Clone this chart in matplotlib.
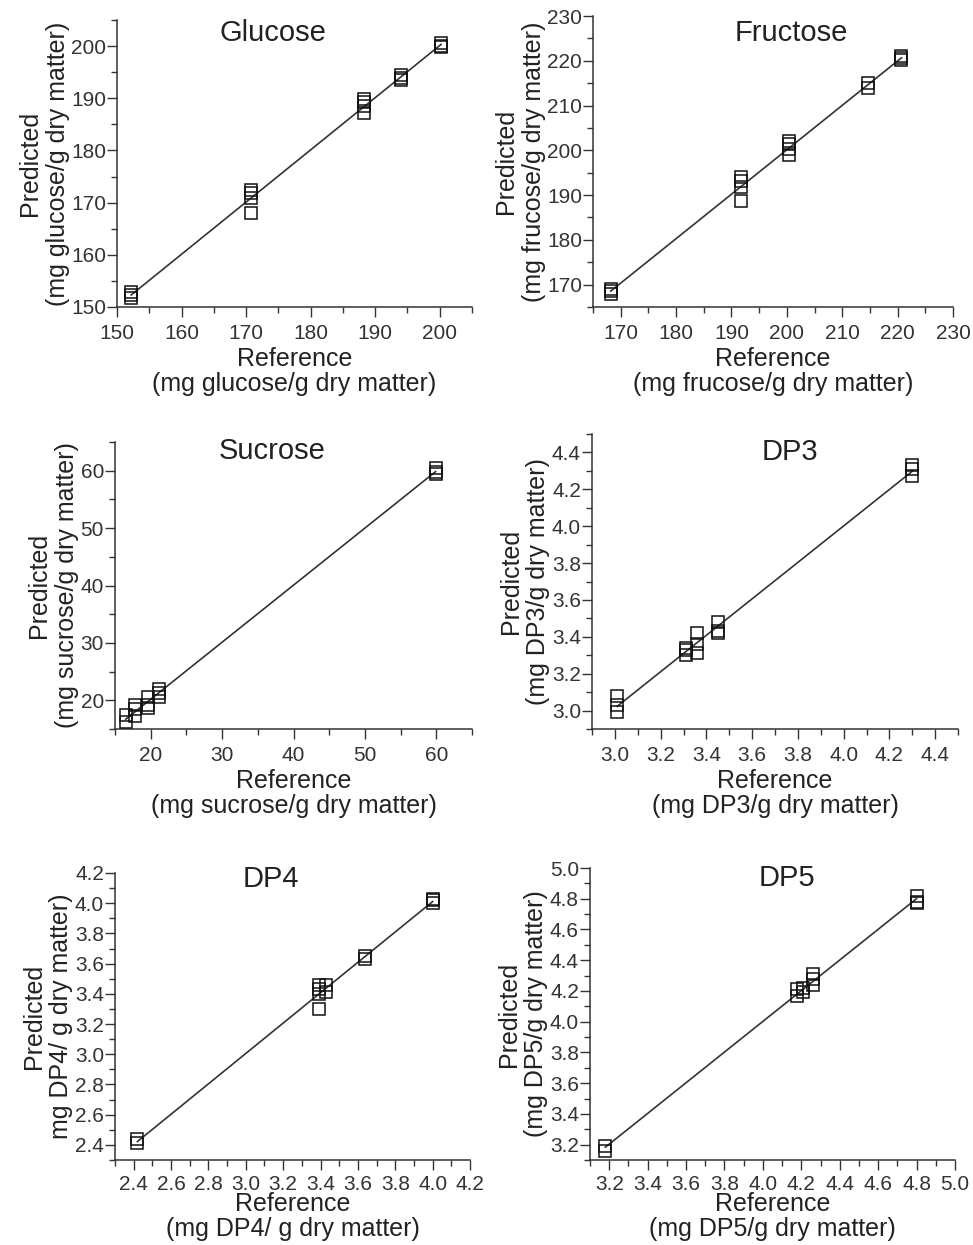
import numpy as np
import matplotlib
matplotlib.use("Agg")
import matplotlib.pyplot as plt
from matplotlib.ticker import MultipleLocator, FormatStrFormatter

plt.rcParams['font.family'] = ['Liberation Sans', 'DejaVu Sans']

# ---- data (reference vs predicted) ----
glu_ref = [152.2, 152.2, 152.2, 170.8, 170.8, 170.8, 170.8, 188.2, 188.2, 188.2, 188.2, 194.0, 194.0, 194.0, 200.2, 200.2, 200.2]
glu_pred = [152.9, 152.3, 151.7, 172.5, 171.8, 170.8, 168.1, 189.8, 189.2, 188.6, 187.2, 194.4, 193.8, 193.5, 200.6, 200.1, 199.8]

fru_ref = [168.2, 168.2, 168.2, 191.8, 191.8, 191.8, 191.8, 200.3, 200.3, 200.3, 200.3, 214.7, 214.7, 220.7, 220.7, 220.7]
fru_pred = [169.0, 168.5, 168.0, 194.0, 193.2, 191.7, 188.6, 202.0, 201.3, 200.4, 199.0, 215.1, 214.0, 221.0, 220.6, 220.2]

suc_ref = [16.5, 16.5, 17.8, 17.8, 17.8, 19.6, 19.6, 19.6, 21.2, 21.2, 21.2, 59.9, 59.9, 59.9]
suc_pred = [17.4, 16.3, 19.1, 18.5, 17.3, 20.5, 19.2, 18.7, 22.0, 21.2, 20.6, 60.4, 59.8, 59.4]

dp3_ref = [3.01, 3.01, 3.01, 3.31, 3.31, 3.31, 3.36, 3.36, 3.36, 3.45, 3.45, 3.45, 4.30, 4.30, 4.30]
dp3_pred = [3.08, 3.03, 2.99, 3.34, 3.33, 3.30, 3.42, 3.36, 3.31, 3.48, 3.43, 3.42, 4.33, 4.31, 4.27]

dp4_ref = [2.42, 2.42, 3.39, 3.39, 3.39, 3.39, 3.43, 3.43, 3.64, 3.64, 4.00, 4.00, 4.00]
dp4_pred = [2.44, 2.41, 3.46, 3.43, 3.40, 3.30, 3.46, 3.41, 3.65, 3.63, 4.03, 4.02, 4.00]

dp5_ref = [3.18, 3.18, 4.18, 4.18, 4.21, 4.21, 4.26, 4.26, 4.26, 4.80, 4.80, 4.80]
dp5_pred = [3.19, 3.16, 4.21, 4.17, 4.22, 4.19, 4.31, 4.28, 4.24, 4.82, 4.78, 4.77]

titles = ['Glucose', 'Fructose', 'Sucrose', 'DP3', 'DP4', 'DP5']
xlabels = ['Reference\n(mg glucose/g dry matter)', 'Reference\n(mg frucose/g dry matter)',
           'Reference\n(mg sucrose/g dry matter)', 'Reference\n(mg DP3/g dry matter)',
           'Reference\n(mg DP4/ g dry matter)', 'Reference\n(mg DP5/g dry matter)']
ylabels = ['Predicted\n(mg glucose/g dry matter)', 'Predicted\n(mg frucose/g dry matter)',
           'Predicted\n(mg sucrose/g dry matter)', 'Predicted\n(mg DP3/g dry matter)',
           'Predicted\nmg DP4/ g dry matter)', 'Predicted\n(mg DP5/g dry matter)']

refs = [glu_ref, fru_ref, suc_ref, dp3_ref, dp4_ref, dp5_ref]
preds = [glu_pred, fru_pred, suc_pred, dp3_pred, dp4_pred, dp5_pred]

# layout in pixels: left, right, top, bottom
W, H = 973, 1245
boxes = [(117, 472, 20, 307), (593, 953, 16, 307),
         (115, 472, 442, 729), (592, 958, 434, 729),
         (115, 470, 873, 1160), (590, 955, 868, 1160)]
lims = [(150, 205, 150, 205), (165, 230, 165, 230), (15, 65, 15, 65),
        (2.9, 4.5, 2.9, 4.5), (2.3, 4.2, 2.3, 4.2), (3.1, 5.0, 3.1, 5.0)]
steps = [(10, 5, '%d'), (10, 5, '%d'), (10, 5, '%d'),
         (0.2, 0.1, '%.1f'), (0.2, 0.1, '%.1f'), (0.2, 0.1, '%.1f')]
title_pos = [(0.44, 0.955), (0.55, 0.94), (0.44, 0.97), (0.54, 0.94), (0.44, 0.98), (0.54, 0.966)]
xpads = [3, 3, 3, 3, -1.5, -1.5]

txt = '#222222'
fig = plt.figure(figsize=(W / 100, H / 100), dpi=100)

for i in range(6):
    l, r, t, b = boxes[i]
    ax = fig.add_axes([l / W, 1 - b / H, (r - l) / W, (b - t) / H])
    x = np.array(refs[i])
    y = np.array(preds[i])
    # fitted regression line
    k, c = np.polyfit(x, y, 1)
    xx = np.array([x.min(), x.max()])
    ax.plot(xx, k * xx + c, color='#333333', lw=1.2, zorder=2)
    ax.plot(x, y, 's', mfc='none', mec='#111111', ms=8.5, mew=1.1, zorder=3)

    ax.set_xlim(lims[i][0], lims[i][1])
    ax.set_ylim(lims[i][2], lims[i][3])
    maj, mnr, fmt = steps[i]
    for a in (ax.xaxis, ax.yaxis):
        a.set_major_locator(MultipleLocator(maj))
        a.set_minor_locator(MultipleLocator(mnr))
        a.set_major_formatter(FormatStrFormatter(fmt))
    for s in ['top', 'right']:
        ax.spines[s].set_visible(False)
    for s in ['left', 'bottom']:
        ax.spines[s].set_color('#333333')
        ax.spines[s].set_linewidth(1.1)
    ax.tick_params(which='major', direction='out', length=7, width=1.0, color='#333333',
                   labelsize=15, labelcolor='#333333')
    ax.tick_params(which='minor', direction='out', length=4, width=1.0, color='#333333')
    ax.tick_params(axis='x', which='major', pad=5 if i < 4 else 4)
    ax.tick_params(axis='y', which='major', pad=1)
    ax.set_xlabel(xlabels[i], fontsize=18, color=txt, linespacing=1.05, labelpad=xpads[i])
    ax.set_ylabel(ylabels[i], fontsize=18, color=txt, linespacing=1.2, labelpad=1)
    ax.text(title_pos[i][0], title_pos[i][1], titles[i], transform=ax.transAxes,
            ha='center', va='center', fontsize=21, color=txt)

fig.savefig('out.png', dpi=100)
